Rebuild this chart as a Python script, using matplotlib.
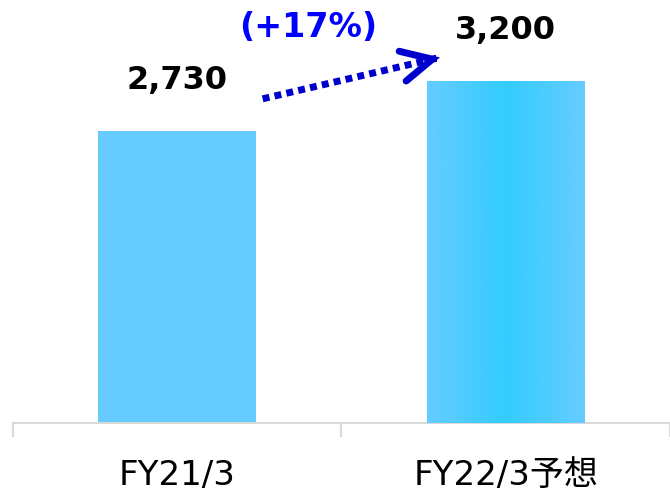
import numpy as np
import matplotlib
matplotlib.use('Agg')
import matplotlib.pyplot as plt
from matplotlib.colors import LinearSegmentedColormap

plt.rcParams['font.family'] = ['DejaVu Sans', 'Noto Sans CJK JP']

# data
categories = ['FY21/3', 'FY22/3予想']
values = [2730, 3200]
value_labels = ['2,730', '3,200']
growth_label = '(+17%)'

fig = plt.figure(figsize=(6.70, 4.91), dpi=100)
ax = fig.add_axes([0.0194, 0.1385, 0.9806, 0.8615])

x = np.arange(len(categories))
bars = ax.bar(x, values, width=0.48, color=['#66CCFF', '#66CCFF'], zorder=2)

# gradient fill on the forecast bar
grad = LinearSegmentedColormap.from_list('g', ['#66CCFF', '#33CCFF', '#66CCFF'])
b = bars[1]
x0, w, h = b.get_x(), b.get_width(), b.get_height()
im = ax.imshow(np.linspace(0, 1, 256).reshape(1, -1), cmap=grad, aspect='auto',
               extent=[x0, x0 + w, 0, h], zorder=3)
im.set_clip_path(b)
ax.set_xlim(-0.5, 1.467)
ax.set_ylim(0, 3955)

# value labels
for xi, v, lab in zip(x, values, value_labels):
    ax.text(xi, v + 395, lab, ha='center', va='baseline', fontsize=23,
            fontweight='bold', color='black', family='DejaVu Sans')

# dotted growth arrow
x_start, y_start = 0.26, 3031
x_end, y_end = 0.808, 3424
slope = (y_end - y_start) / (x_end - x_start)
ax.plot([x_start, x_end - 0.04], [y_start, y_end - 0.04 * slope],
        color='#0000CC', linewidth=5, dashes=(1.0, 0.75), dash_capstyle='butt',
        zorder=4)
ax.annotate('', xy=(x_end, y_end), xytext=(x_end - 0.02, y_end - 0.02 * slope),
            arrowprops=dict(arrowstyle='->,head_length=2.2,head_width=1.1',
                            color='#0000CC', lw=5, capstyle='round',
                            joinstyle='miter', shrinkA=0, shrinkB=2), zorder=4)
ax.text(0.40, 3696, growth_label, ha='center', va='center', fontsize=24,
        fontweight='bold', color='#0000FF', family='DejaVu Sans')

# axis styling
for s in ['top', 'right', 'left']:
    ax.spines[s].set_visible(False)
ax.spines['bottom'].set_color('#D9D9D9')
ax.spines['bottom'].set_linewidth(1.5)
ax.set_yticks([])
ax.set_xticks(x)
ax.set_xticklabels(categories, fontsize=24.5)
ax.tick_params(axis='x', which='major', length=0, pad=26)
ax.set_xticks([-0.5, 0.5, 1.5], minor=True)
ax.tick_params(axis='x', which='minor', length=10, width=1.5, color='#D9D9D9')

fig.savefig('out.png', dpi=100)
